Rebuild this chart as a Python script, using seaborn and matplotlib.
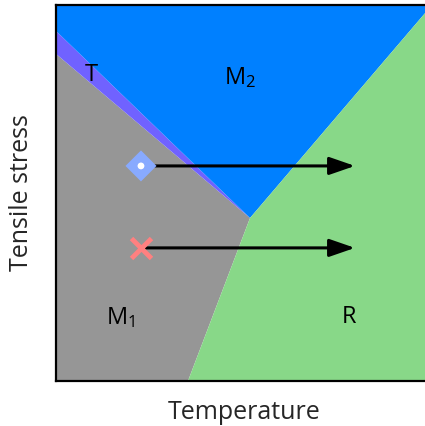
import matplotlib
matplotlib.use("Agg")
import matplotlib.pyplot as plt
import seaborn as sns
import pandas as pd

# Phase regions (temperature, tensile stress) in arbitrary units
triple = (5.16, 4.335)
region_names = ["M1", "T", "M2", "R"]
region_x = [
    [0.0, 3.51, triple[0], 0.0],
    [0.0, triple[0], 0.0],
    [0.0, triple[0], 10.0, 0.0],
    [3.51, 10.0, 10.0, triple[0]],
]
region_y = [
    [0.0, 0.0, triple[1], 8.70],
    [8.70, triple[1], 9.31],
    [9.31, triple[1], 10.0, 10.0],
    [0.0, 0.0, 10.0, triple[1]],
]
region_colors = ["#969696", "#7062FF", "#0080FF", "#88D888"]

# Region labels
label_text = ["T", "M$_2$", "M$_1$", "R"]
label_x = [0.93, 4.9, 1.72, 7.79]
label_y = [8.15, 8.07, 1.68, 1.70]

# Loading paths: start points and heating end point
path_kind = ["diamond", "cross"]
path_x = [2.26, 2.26]
path_y = [5.72, 3.54]
path_end_x = 7.95

sns.set_theme(style="white")
plt.rcParams["font.family"] = ["Open Sans", "DejaVu Sans"]
plt.rcParams["mathtext.fontset"] = "custom"
plt.rcParams["mathtext.rm"] = "Open Sans"
plt.rcParams["mathtext.default"] = "regular"

fig = plt.figure(figsize=(4.25, 4.26), dpi=100)
W, H = 425, 426
ax = fig.add_axes([56 / W, 1 - 381 / H, 376 / W, 376 / H])

for xs, ys, c in zip(region_x, region_y, region_colors):
    ax.fill(xs, ys, color=c, linewidth=0, zorder=1)

for x0, y0 in zip(path_x, path_y):
    ax.annotate("", xy=(path_end_x, y0), xytext=(x0, y0),
                arrowprops=dict(arrowstyle="-|>,head_length=1.3,head_width=0.45",
                                color="black", lw=2.2, shrinkA=0, shrinkB=0),
                zorder=3)

df = pd.DataFrame({"x": path_x, "y": path_y, "kind": path_kind})
d = df[df.kind == "diamond"]
sns.scatterplot(data=d, x="x", y="y", marker="D", s=250, color="#88AAFF",
                edgecolor="none", ax=ax, zorder=4, legend=False)
sns.scatterplot(data=d, x="x", y="y", marker="o", s=24, color="white",
                edgecolor="none", ax=ax, zorder=5, legend=False)
c = df[df.kind == "cross"]
ax.plot(c.x, c.y, marker="x", markersize=15, markeredgewidth=3.5,
        color="#FF8080", linestyle="none", zorder=4)

for t, x, y in zip(label_text, label_x, label_y):
    ax.text(x, y, t, fontsize=17, ha="center", va="center", color="black", zorder=6)

ax.set_xlim(0, 10)
ax.set_ylim(0, 10)
ax.set_xticks([])
ax.set_yticks([])
ax.set_xlabel("Temperature", fontsize=18, labelpad=14)
ax.set_ylabel("Tensile stress", fontsize=18, labelpad=16)
for s in ax.spines.values():
    s.set_color("black")
    s.set_linewidth(1.6)
    s.set_visible(True)

fig.savefig("out.png", dpi=100)
